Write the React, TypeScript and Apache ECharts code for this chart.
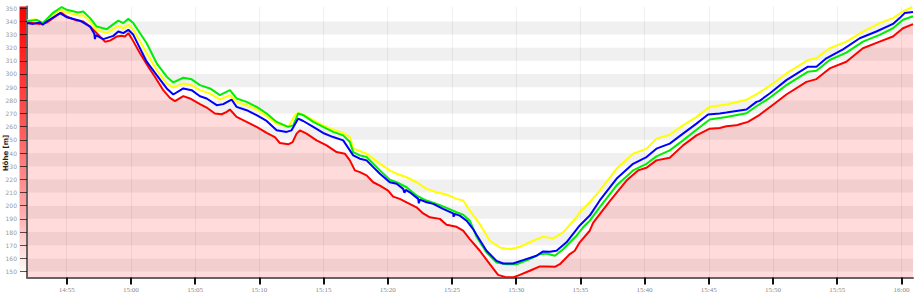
import { useEffect, useRef } from "react";
import * as echarts from "echarts";

// x = minutes after 14:00, y = altitude [m]
const redSeries: [number, number][] = [
  [51.91, 339.3], [52.92, 338.0], [53.44, 339.0], [53.96, 342.5], [54.56, 346.6], [55.0, 343.6],
  [55.78, 340.5], [56.29, 339.8], [56.82, 336.0], [57.34, 331.0], [57.98, 324.5], [58.37, 325.3],
  [58.89, 328.4], [59.28, 329.0], [59.54, 328.4], [59.8, 331.0], [60.06, 327.0], [60.71, 315.7],
  [61.35, 305.5], [61.87, 297.9], [62.52, 287.7], [63.04, 281.9], [63.43, 279.4], [64.08, 283.2],
  [64.6, 281.4], [65.38, 277.1], [65.9, 274.5], [66.54, 270.0], [67.07, 269.4], [67.46, 271.2],
  [67.71, 273.0], [68.23, 267.4], [69.01, 263.6], [69.79, 259.8], [70.57, 255.2], [71.21, 252.1],
  [71.6, 247.6], [72.25, 246.6], [72.59, 248.3], [72.9, 254.7], [73.16, 257.2], [73.68, 254.7],
  [74.46, 249.6], [75.24, 245.8], [76.02, 240.7], [76.66, 239.5], [77.05, 234.4], [77.44, 226.8],
  [77.83, 225.5], [78.35, 223.0], [78.87, 217.8], [79.39, 215.3], [80.03, 211.5], [80.42, 206.9],
  [80.94, 205.2], [81.47, 202.6], [82.24, 198.8], [82.76, 194.1], [83.28, 191.2], [84.06, 190.0],
  [84.58, 185.6], [85.36, 184.0], [85.87, 181.0], [86.39, 174.7], [87.17, 165.8], [87.95, 155.6],
  [88.59, 147.5], [89.25, 145.6], [89.76, 145.6], [90.28, 147.5], [91.06, 150.6], [91.84, 153.9],
  [92.36, 153.9], [93.01, 153.6], [93.4, 155.6], [94.18, 163.3], [94.56, 165.8], [94.95, 172.2],
  [95.73, 181.0], [95.99, 187.0], [97.29, 203.5], [98.59, 219.1], [99.49, 226.8], [100.15, 228.8],
  [100.92, 234.4], [101.96, 236.4], [102.99, 245.8], [104.04, 253.4], [105.07, 258.5], [105.85, 259.0],
  [106.37, 260.3], [107.15, 261.0], [107.41, 261.8], [108.05, 263.6], [108.96, 269.0], [110.13, 277.6],
  [111.04, 284.4], [112.6, 294.0], [113.38, 296.1], [114.41, 304.2], [115.71, 309.3], [117.0, 319.5],
  [118.3, 324.5], [119.34, 328.4], [120.12, 334.7], [120.9, 337.8],
];

const blueSeries: [number, number][] = [
  [51.91, 338.6], [52.38, 338.0], [52.92, 339.0], [53.13, 337.3], [53.44, 339.8], [54.48, 346.2],
  [55.0, 343.1], [56.04, 340.5], [56.82, 336.0], [57.15, 330.5], [57.2, 326.5], [57.26, 329.5],
  [57.85, 326.4], [58.63, 328.9], [59.02, 332.2], [59.41, 331.0], [59.8, 333.5], [60.19, 329.7],
  [61.23, 309.3], [62.01, 299.1], [62.79, 289.0], [63.3, 284.4], [64.08, 289.0], [64.73, 287.7],
  [65.38, 283.1], [65.9, 281.4], [66.68, 276.3], [67.19, 277.1], [67.84, 280.6], [68.23, 275.0],
  [69.01, 272.5], [69.79, 268.7], [70.57, 264.3], [71.35, 257.2], [72.13, 256.0], [72.51, 257.2],
  [73.03, 266.1], [73.42, 264.3], [74.2, 259.8], [74.97, 255.2], [75.75, 252.1], [76.53, 249.6],
  [76.79, 245.8], [77.31, 238.2], [77.83, 235.7], [78.35, 234.4], [78.87, 229.3], [79.39, 224.3],
  [80.16, 217.8], [80.69, 216.6], [81.2, 212.8], [81.3, 209.8], [81.4, 212.0], [81.72, 210.2],
  [82.37, 205.2], [82.42, 201.8], [82.5, 204.6], [83.02, 202.6], [83.54, 201.4], [84.31, 197.6],
  [85.09, 194.2], [85.13, 191.6], [85.2, 193.8], [85.61, 192.5], [86.14, 188.6], [86.65, 182.3],
  [86.91, 178.0], [87.69, 165.8], [88.47, 158.1], [88.98, 156.1], [89.76, 156.1], [90.54, 158.7],
  [91.58, 162.0], [92.1, 165.3], [92.62, 165.0], [93.14, 165.8], [93.92, 172.2], [94.95, 185.0],
  [95.73, 192.5], [96.51, 204.0], [97.81, 220.4], [99.1, 231.8], [100.15, 236.9], [100.92, 243.3],
  [101.96, 247.1], [102.99, 254.7], [104.04, 262.3], [104.94, 269.2], [105.85, 270.0], [106.37, 270.7],
  [107.93, 273.0], [108.71, 278.8], [108.96, 279.6], [109.74, 285.2], [111.04, 295.3], [112.72, 305.5],
  [113.38, 305.5], [114.15, 311.9], [115.45, 318.7], [116.75, 327.1], [118.05, 332.2], [119.34, 338.0],
  [119.86, 342.4], [120.25, 346.2], [120.9, 347.0],
];

const greenSeries: [number, number][] = [
  [51.91, 340.0], [52.67, 341.0], [53.13, 338.6], [53.96, 346.6], [54.61, 350.8], [55.0, 348.7],
  [55.9, 346.6], [56.29, 347.4], [56.82, 342.4], [57.34, 336.0], [58.12, 334.0], [59.02, 340.5],
  [59.41, 338.6], [59.8, 341.8], [60.19, 338.6], [61.23, 323.3], [62.01, 308.1], [62.79, 297.9],
  [63.3, 293.6], [64.08, 297.1], [64.73, 295.9], [65.38, 291.5], [66.16, 289.0], [66.93, 283.9],
  [67.71, 287.7], [68.23, 281.4], [69.01, 278.8], [69.79, 275.0], [70.57, 270.0], [71.35, 263.6],
  [72.25, 259.8], [72.64, 261.0], [73.03, 270.0], [73.42, 268.7], [74.2, 263.6], [74.97, 259.8],
  [75.75, 256.0], [76.53, 253.4], [77.05, 248.3], [77.31, 240.7], [77.83, 238.2], [78.35, 236.9],
  [78.87, 231.9], [79.39, 226.8], [80.16, 219.7], [80.69, 217.8], [81.47, 214.0], [82.24, 207.7],
  [83.02, 203.9], [83.8, 201.4], [84.58, 198.3], [85.36, 195.0], [85.87, 193.2], [86.39, 188.6],
  [86.91, 176.5], [87.69, 164.5], [88.47, 156.9], [89.25, 155.6], [90.03, 155.6], [91.06, 159.4],
  [91.84, 163.2], [92.36, 163.7], [93.01, 162.0], [93.65, 167.0], [94.7, 177.2], [95.21, 183.6],
  [95.73, 188.6], [96.51, 198.9], [97.81, 215.3], [99.1, 226.8], [100.15, 231.8], [100.92, 237.4],
  [101.96, 242.0], [102.99, 249.6], [104.04, 257.7], [105.07, 265.4], [106.37, 267.4], [107.93, 270.2],
  [108.71, 275.5], [109.74, 281.9], [111.04, 291.5], [112.72, 301.7], [113.38, 302.4], [114.41, 310.6],
  [115.71, 316.2], [117.0, 324.5], [118.3, 329.7], [119.34, 334.7], [120.12, 341.1], [120.9, 343.8],
];

const yellowSeries: [number, number][] = [
  [51.91, 340.5], [52.53, 341.6], [53.13, 339.0], [54.48, 348.7], [55.0, 346.6], [56.04, 344.1],
  [56.29, 344.5], [56.82, 339.8], [57.34, 333.5], [58.12, 331.0], [59.02, 336.5], [59.41, 334.7],
  [59.8, 337.3], [60.19, 333.5], [61.23, 315.7], [62.01, 303.0], [62.79, 292.8], [63.3, 289.8],
  [64.08, 292.8], [64.73, 291.5], [65.38, 287.7], [66.16, 285.2], [66.93, 280.6], [67.71, 283.9],
  [68.23, 278.8], [69.01, 276.3], [69.79, 273.0], [70.57, 267.9], [71.35, 262.3], [72.25, 259.8],
  [72.77, 268.7], [73.03, 270.4], [73.42, 269.2], [74.2, 264.9], [74.97, 261.0], [75.75, 257.8],
  [76.53, 255.2], [77.05, 252.1], [77.31, 243.3], [77.83, 241.5], [78.35, 239.5], [78.87, 235.7],
  [79.39, 231.9], [80.16, 226.8], [80.69, 224.3], [81.47, 221.6], [82.24, 217.8], [83.02, 212.8],
  [83.8, 210.2], [84.58, 208.5], [85.36, 205.2], [85.87, 203.9], [86.39, 196.2], [87.17, 186.0],
  [87.95, 173.4], [88.73, 168.3], [89.51, 167.0], [90.28, 168.8], [91.32, 173.4], [92.1, 176.5],
  [92.88, 175.2], [93.65, 179.8], [94.7, 191.2], [94.95, 195.0], [95.73, 202.6], [96.51, 211.5],
  [97.81, 228.0], [99.1, 239.4], [100.15, 243.3], [100.92, 250.9], [101.96, 253.9], [102.99, 261.0],
  [104.04, 267.4], [105.07, 275.0], [106.37, 276.8], [107.93, 280.4], [108.96, 286.0], [110.0, 292.8],
  [111.04, 300.4], [112.72, 310.6], [113.38, 311.9], [114.41, 319.5], [115.71, 324.5], [117.0, 332.2],
  [118.3, 338.6], [119.34, 342.4], [120.12, 347.4], [120.85, 350.8], [120.9, 350.9],
];

const xTickMinutes = [55, 60, 65, 70, 75, 80, 85, 90, 95, 100, 105, 110, 115, 120];
const yTickValues = [150, 160, 170, 180, 190, 200, 210, 220, 230, 240, 250, 260, 270, 280, 290, 300, 310, 320, 330, 340, 350];
const yAxisTitle = "Höhe [m]";

const X_MIN = 51.91;
const X_MAX = 120.9;
const Y_MIN = 145.5;
const Y_MAX = 351.2;

function fmtTime(m: number): string {
  const h = 14 + Math.floor(Math.round(m) / 60);
  const mm = Math.round(m) % 60;
  return `${h}:${String(mm).padStart(2, "0")}`;
}

export default function App() {
  const ref = useRef<HTMLDivElement>(null);
  useEffect(() => {
    if (!ref.current) return;
    const chart = echarts.init(ref.current, undefined, { renderer: "svg" });
    const lineSeries = (name: string, data: [number, number][], color: string, z: number, area = false) => ({
      name,
      type: "line",
      data,
      symbol: "none",
      smooth: false,
      z,
      lineStyle: { color, width: 2 },
      itemStyle: { color },
      areaStyle: area ? { color: "rgba(255,0,0,0.2)", origin: "start" } : undefined,
    });
    chart.setOption({
      animation: false,
      backgroundColor: "#ffffff",
      grid: { left: 27, right: 9, top: 6.5, bottom: 16.5, containLabel: false },
      xAxis: {
        type: "value",
        min: X_MIN,
        max: X_MAX,
        splitNumber: 14,
        axisLine: { show: true, onZero: false, lineStyle: { color: "#666", width: 2 } },
        axisTick: { show: true, length: 7, customValues: xTickMinutes, lineStyle: { color: "#111", width: 2 } },
        axisLabel: {
          customValues: xTickMinutes,
          formatter: (v: number) => (Math.abs(v / 5 - Math.round(v / 5)) < 1e-6 ? fmtTime(v) : ""),
          color: "#888",
          fontSize: 7,
          fontFamily: "Liberation Serif",
          margin: 9,
        },
        splitLine: { show: true, lineStyle: { color: "rgba(0,0,0,0.06)", width: 1 } },
      },
      yAxis: {
        type: "value",
        min: Y_MIN,
        max: Y_MAX,
        splitNumber: 20,
        axisLine: { show: true, onZero: false, lineStyle: { color: "#666", width: 2 } },
        axisTick: { show: true, length: 7, customValues: yTickValues, lineStyle: { color: "rgba(0,0,0,0.65)", width: 1 } },
        axisLabel: {
          customValues: yTickValues,
          formatter: (v: number) => (Math.abs(v % 10) < 1e-6 ? String(v) : ""),
          color: "#999",
          fontSize: 6,
          fontFamily: "DejaVu Sans",
          margin: 10,
        },
        splitLine: { show: false },
        splitArea: { show: true, areaStyle: { color: ["#f0f0f0", "#ffffff"] } },
      },
      graphic: [
        {
          type: "rect",
          z: -10,
          shape: { x: 19.5, y: 6.5, width: 7, height: 271 },
          style: {
            fill: new echarts.graphic.LinearGradient(0, 0, 0, 1, [
              { offset: 0, color: "#ff0000" },
              { offset: 0.45, color: "#ff5a5a" },
              { offset: 0.75, color: "#ffa8a8" },
              { offset: 1, color: "#ffffff" },
            ]),
          },
        },
        {
          type: "text",
          x: 6,
          y: 153,
          rotation: Math.PI / 2,
          style: {
            text: yAxisTitle,
            fill: "#222",
            font: "bold 7px 'DejaVu Sans'",
            align: "center",
            verticalAlign: "middle",
          },
        },
      ],
      series: [
        lineSeries("red", redSeries, "#ff0000", 2, true),
        lineSeries("yellow", yellowSeries, "#ffff00", 3),
        lineSeries("green", greenSeries, "#00ee00", 4),
        lineSeries("blue", blueSeries, "#0000ff", 5),
      ],
    });
    return () => chart.dispose();
  }, []);
  return (
    <div
      ref={ref}
      style={{ position: "fixed", left: 0, top: 0, width: 922, height: 294, background: "#fff" }}
    />
  );
}
